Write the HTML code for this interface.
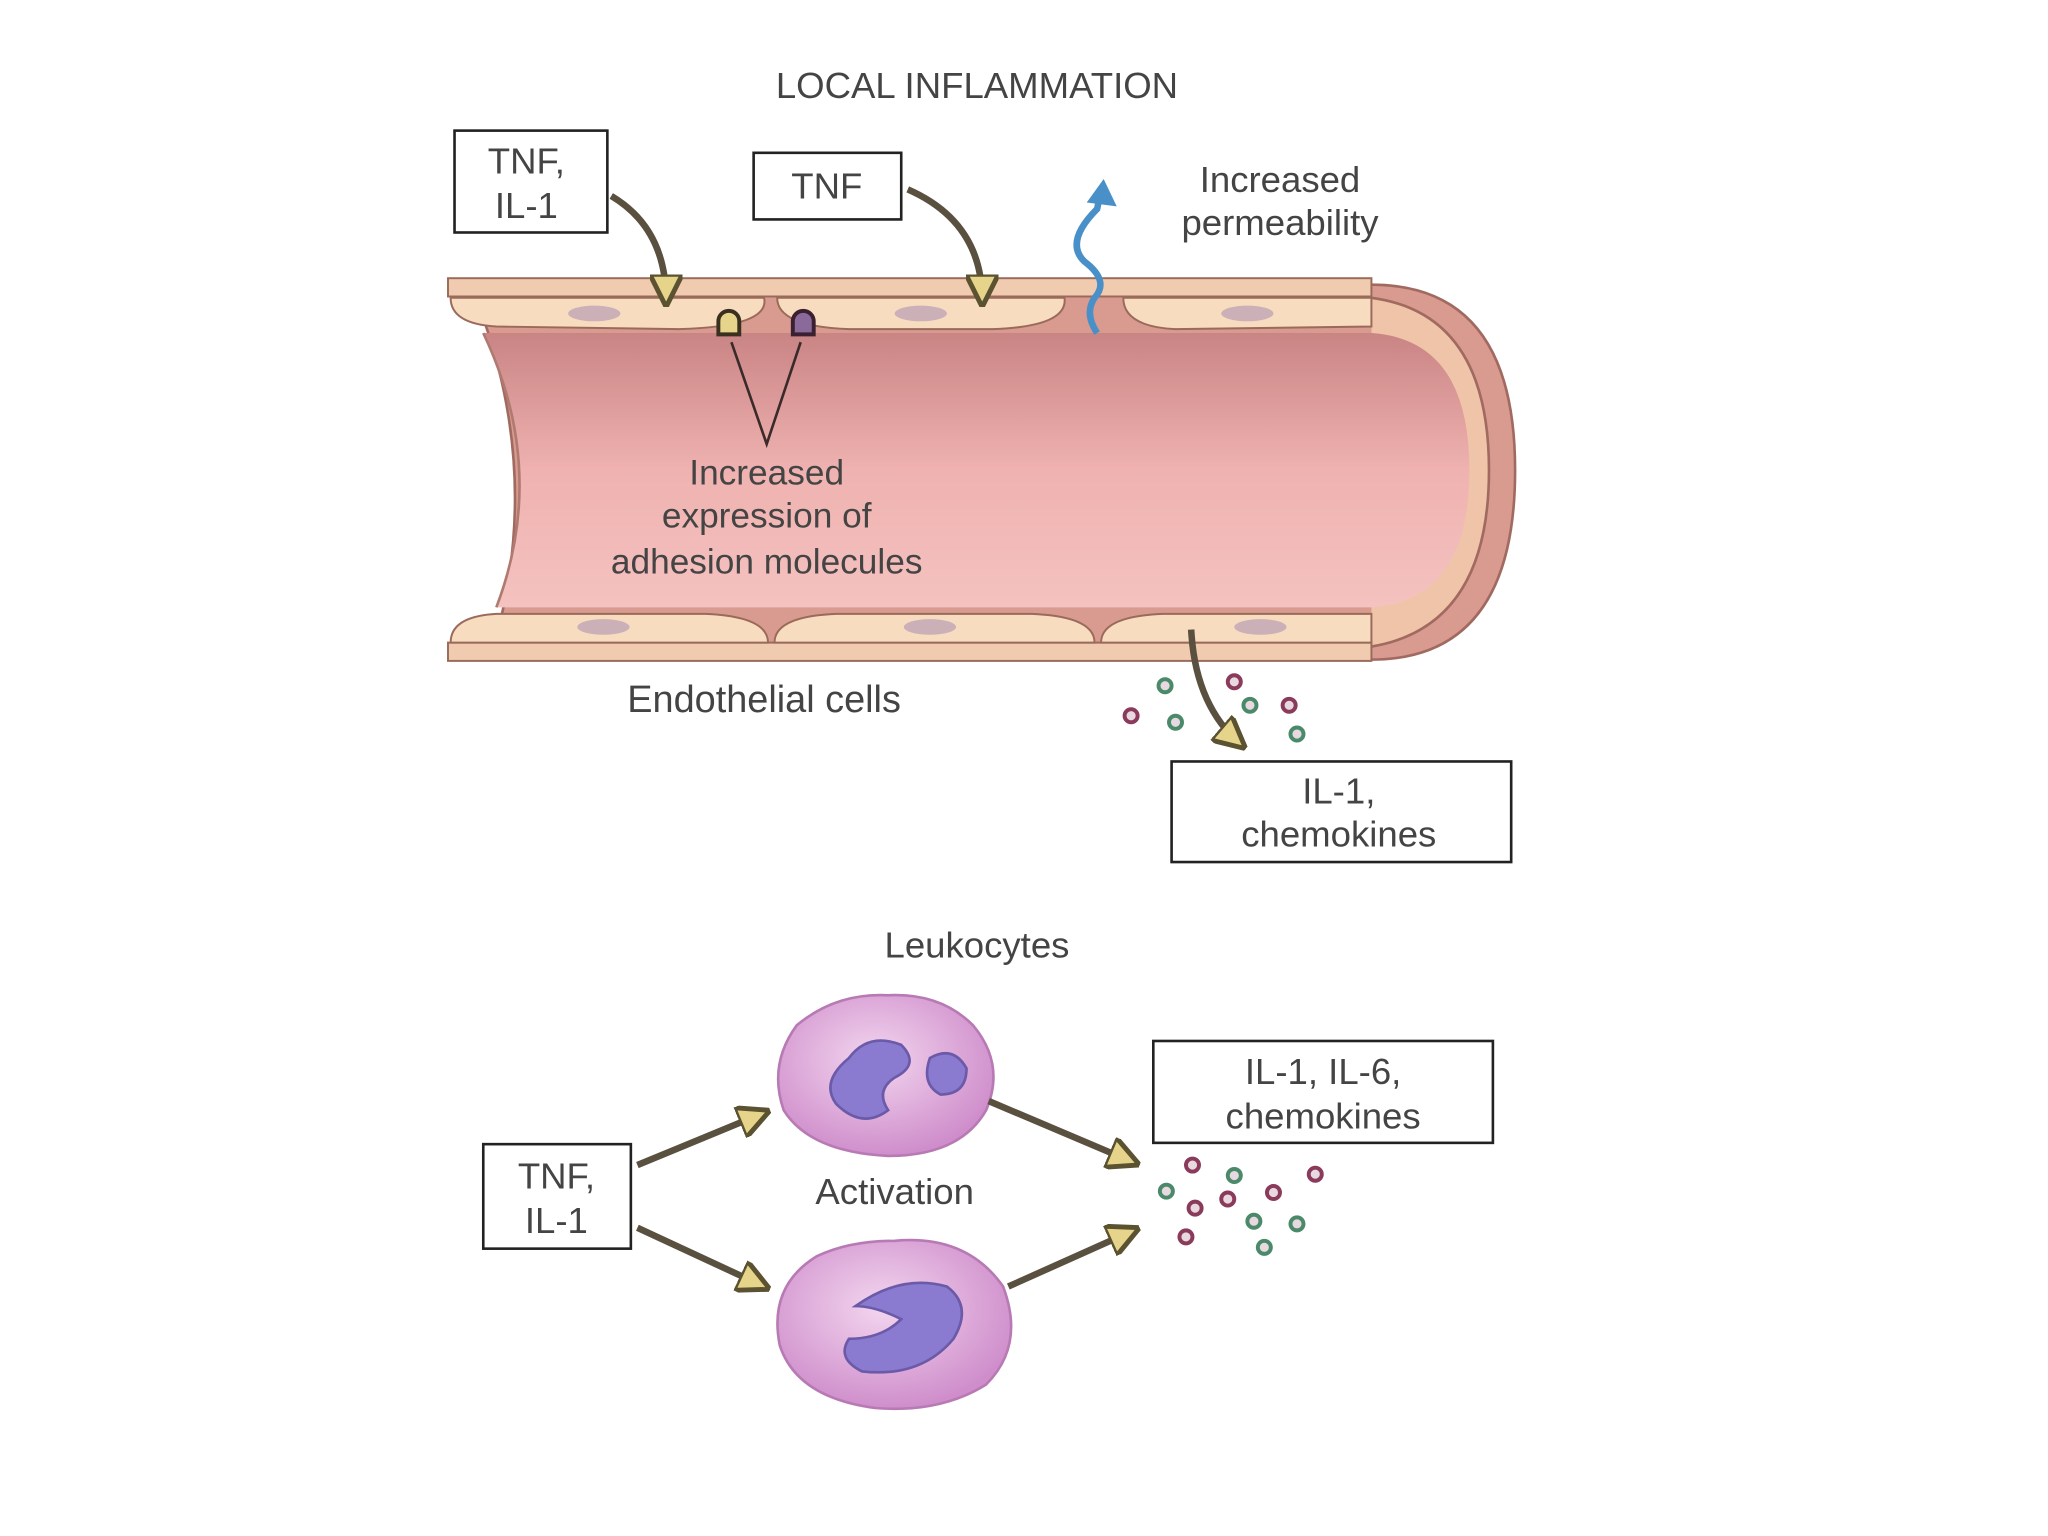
<!DOCTYPE html>
<html><head><meta charset="utf-8"><style>
html,body{margin:0;padding:0;background:#fff;}
svg{display:block}
text{font-family:"Liberation Sans",sans-serif;fill:#444;}
</style></head><body>
<svg width="2048" height="1536" viewBox="0 0 1568 1176" xmlns="http://www.w3.org/2000/svg">
<defs>
<linearGradient id="lum" x1="0" y1="0" x2="0" y2="1">
<stop offset="0" stop-color="#c98484"/><stop offset="0.5" stop-color="#efb2b0"/><stop offset="1" stop-color="#f4c2c0"/>
</linearGradient>
<radialGradient id="cell" cx="0.45" cy="0.4" r="0.6">
<stop offset="0" stop-color="#f3d6ef"/><stop offset="1" stop-color="#cf8ecb"/>
</radialGradient>
<marker id="ah" viewBox="0 0 10 10" refX="8" refY="5" markerWidth="5" markerHeight="5" orient="auto">
<path d="M0,0 L10,5 L0,10 z" fill="#e6d48a" stroke="#5a5230" stroke-width="1.5"/>
</marker>
</defs>
<rect width="1568" height="1176" fill="#fff"/>
<text x="748" y="75" font-size="28" text-anchor="middle">LOCAL INFLAMMATION</text>

<!-- vessel -->
<path d="M360,218 L1050,218 Q1160,218 1160,360 Q1160,505 1050,505 L375,505 Q420,360 360,218 Z" fill="#d99a90" stroke="#a06a60" stroke-width="2"/>
<path d="M1050,228 Q1140,240 1140,360 Q1140,480 1050,495" fill="#f0c4a8" stroke="#a06a60" stroke-width="2"/>
<path d="M370,255 L1050,255 Q1125,260 1125,360 Q1125,460 1050,465 L380,465 Q420,360 370,255 Z" fill="url(#lum)"/>
<path d="M370,255 Q420,360 380,465" fill="none" stroke="#b07a70" stroke-width="2"/>
<!-- top wall -->
<rect x="343" y="213" width="707" height="14" fill="#f1cbb0" stroke="#9a6a5a" stroke-width="1.5"/>
<path d="M345,228 L585,228 Q590,250 520,252 L380,250 Q345,248 345,228Z" fill="#f7dcc0" stroke="#9a6a5a" stroke-width="1.5"/>
<path d="M595,228 L815,228 Q818,250 760,252 L650,252 Q595,250 595,228Z" fill="#f7dcc0" stroke="#9a6a5a" stroke-width="1.5"/>
<path d="M860,228 L1050,228 L1050,250 L900,252 Q860,250 860,228Z" fill="#f7dcc0" stroke="#9a6a5a" stroke-width="1.5"/>
<ellipse cx="455" cy="240" rx="20" ry="6" fill="#cbb0b8"/>
<ellipse cx="705" cy="240" rx="20" ry="6" fill="#cbb0b8"/>
<ellipse cx="955" cy="240" rx="20" ry="6" fill="#cbb0b8"/>
<!-- bottom wall -->
<rect x="343" y="492" width="707" height="14" fill="#f1cbb0" stroke="#9a6a5a" stroke-width="1.5"/>
<path d="M345,492 L588,492 Q588,472 540,470 L380,470 Q345,472 345,492Z" fill="#f7dcc0" stroke="#9a6a5a" stroke-width="1.5"/>
<path d="M593,492 L838,492 Q838,472 790,470 L640,470 Q593,472 593,492Z" fill="#f7dcc0" stroke="#9a6a5a" stroke-width="1.5"/>
<path d="M843,492 L1050,492 L1050,470 L890,470 Q843,472 843,492Z" fill="#f7dcc0" stroke="#9a6a5a" stroke-width="1.5"/>
<ellipse cx="462" cy="480" rx="20" ry="6" fill="#cbb0b8"/>
<ellipse cx="712" cy="480" rx="20" ry="6" fill="#cbb0b8"/>
<ellipse cx="965" cy="480" rx="20" ry="6" fill="#cbb0b8"/>

<!-- adhesion molecules -->
<path d="M550,256 v-10 a8,8 0 0 1 16,0 v10 z" fill="#e6d48a" stroke="#3a3020" stroke-width="3"/>
<path d="M607,256 v-10 a8,8 0 0 1 16,0 v10 z" fill="#8a6a9a" stroke="#3a2030" stroke-width="3"/>
<path d="M560,262 L587,340 L613,262" fill="none" stroke="#3a2a2a" stroke-width="2"/>
<text x="587" y="371" font-size="27" text-anchor="middle">Increased</text>
<text x="587" y="404" font-size="27" text-anchor="middle">expression of</text>
<text x="587" y="439" font-size="27" text-anchor="middle">adhesion molecules</text>

<!-- boxes top -->
<rect x="348" y="100" width="117" height="78" fill="#fff" stroke="#222" stroke-width="2"/>
<text x="403" y="133" font-size="28" text-anchor="middle">TNF,</text>
<text x="403" y="167" font-size="28" text-anchor="middle">IL-1</text>
<rect x="577" y="117" width="113" height="51" fill="#fff" stroke="#222" stroke-width="2"/>
<text x="633" y="152" font-size="28" text-anchor="middle">TNF</text>
<path d="M468,150 Q510,175 510,230" fill="none" stroke="#5a5040" stroke-width="5" marker-end="url(#ah)"/>
<path d="M695,145 Q752,170 752,230" fill="none" stroke="#5a5040" stroke-width="5" marker-end="url(#ah)"/>
<!-- permeability -->
<path d="M840,255 Q830,240 838,228 Q850,215 830,200 Q815,185 840,160 L842,150" fill="none" stroke="#4a90c8" stroke-width="5"/>
<path d="M832,155 L845,137 L855,158 Z" fill="#4a90c8"/>
<text x="980" y="147" font-size="28" text-anchor="middle">Increased</text>
<text x="980" y="180" font-size="28" text-anchor="middle">permeability</text>

<text x="585" y="545" font-size="29" text-anchor="middle">Endothelial cells</text>
<!-- dots -->
<g stroke-width="3" fill="#e8d8e0">
<circle cx="892" cy="525" r="5" stroke="#4a8a6a"/><circle cx="866" cy="548" r="5" stroke="#8a3a5a"/>
<circle cx="900" cy="553" r="5" stroke="#4a8a6a"/><circle cx="945" cy="522" r="5" stroke="#8a3a5a"/>
<circle cx="957" cy="540" r="5" stroke="#4a8a6a"/><circle cx="987" cy="540" r="5" stroke="#8a3a5a"/>
<circle cx="993" cy="562" r="5" stroke="#4a8a6a"/>
</g>
<path d="M912,482 Q915,540 950,570" fill="none" stroke="#5a5040" stroke-width="5" marker-end="url(#ah)"/>
<rect x="897" y="583" width="260" height="77" fill="#fff" stroke="#222" stroke-width="2"/>
<text x="1025" y="615" font-size="28" text-anchor="middle">IL-1,</text>
<text x="1025" y="648" font-size="28" text-anchor="middle">chemokines</text>

<!-- leukocytes -->
<text x="748" y="733" font-size="28" text-anchor="middle">Leukocytes</text>
<path d="M680,762 Q720,760 745,785 Q770,815 755,850 Q735,885 680,885 Q620,882 600,850 Q588,815 610,785 Q640,760 680,762Z" fill="url(#cell)" stroke="#b87ab4" stroke-width="2"/>
<path d="M650,810 Q665,790 690,800 Q705,815 685,825 Q670,835 680,850 Q660,865 640,845 Q628,828 650,810Z" fill="#8a7ad0" stroke="#6a5aa8" stroke-width="2"/>
<path d="M712,810 Q730,800 740,818 Q740,838 720,838 Q705,830 712,810Z" fill="#8a7ad0" stroke="#6a5aa8" stroke-width="2"/>
<path d="M685,950 Q740,945 768,985 Q785,1030 755,1060 Q720,1082 670,1078 Q610,1070 597,1030 Q588,985 625,962 Q650,950 685,950Z" fill="url(#cell)" stroke="#b87ab4" stroke-width="2"/>
<path d="M655,1000 Q690,975 725,985 Q745,1000 730,1025 Q705,1055 660,1050 Q640,1040 650,1025 Q675,1025 690,1010 Q670,1000 655,1000Z" fill="#8a7ad0" stroke="#6a5aa8" stroke-width="2"/>
<rect x="370" y="876" width="113" height="80" fill="#fff" stroke="#222" stroke-width="2"/>
<text x="426" y="910" font-size="28" text-anchor="middle">TNF,</text>
<text x="426" y="944" font-size="28" text-anchor="middle">IL-1</text>
<text x="685" y="922" font-size="28" text-anchor="middle">Activation</text>
<rect x="883" y="797" width="260" height="78" fill="#fff" stroke="#222" stroke-width="2"/>
<text x="1013" y="830" font-size="28" text-anchor="middle">IL-1, IL-6,</text>
<text x="1013" y="864" font-size="28" text-anchor="middle">chemokines</text>
<g stroke="#5a5040" stroke-width="5" fill="none">
<path d="M488,892 L585,852" marker-end="url(#ah)"/>
<path d="M488,940 L585,985" marker-end="url(#ah)"/>
<path d="M757,843 L868,890" marker-end="url(#ah)"/>
<path d="M772,985 L868,942" marker-end="url(#ah)"/>
</g>
<g stroke-width="3" fill="#e8d8e0">
<circle cx="913" cy="892" r="5" stroke="#8a3a5a"/><circle cx="945" cy="900" r="5" stroke="#4a8a6a"/>
<circle cx="1007" cy="899" r="5" stroke="#8a3a5a"/><circle cx="893" cy="912" r="5" stroke="#4a8a6a"/>
<circle cx="940" cy="918" r="5" stroke="#8a3a5a"/><circle cx="975" cy="913" r="5" stroke="#8a3a5a"/>
<circle cx="915" cy="925" r="5" stroke="#8a3a5a"/><circle cx="960" cy="935" r="5" stroke="#4a8a6a"/>
<circle cx="993" cy="937" r="5" stroke="#4a8a6a"/><circle cx="908" cy="947" r="5" stroke="#8a3a5a"/>
<circle cx="968" cy="955" r="5" stroke="#4a8a6a"/>
</g>
</svg>
</body></html>
